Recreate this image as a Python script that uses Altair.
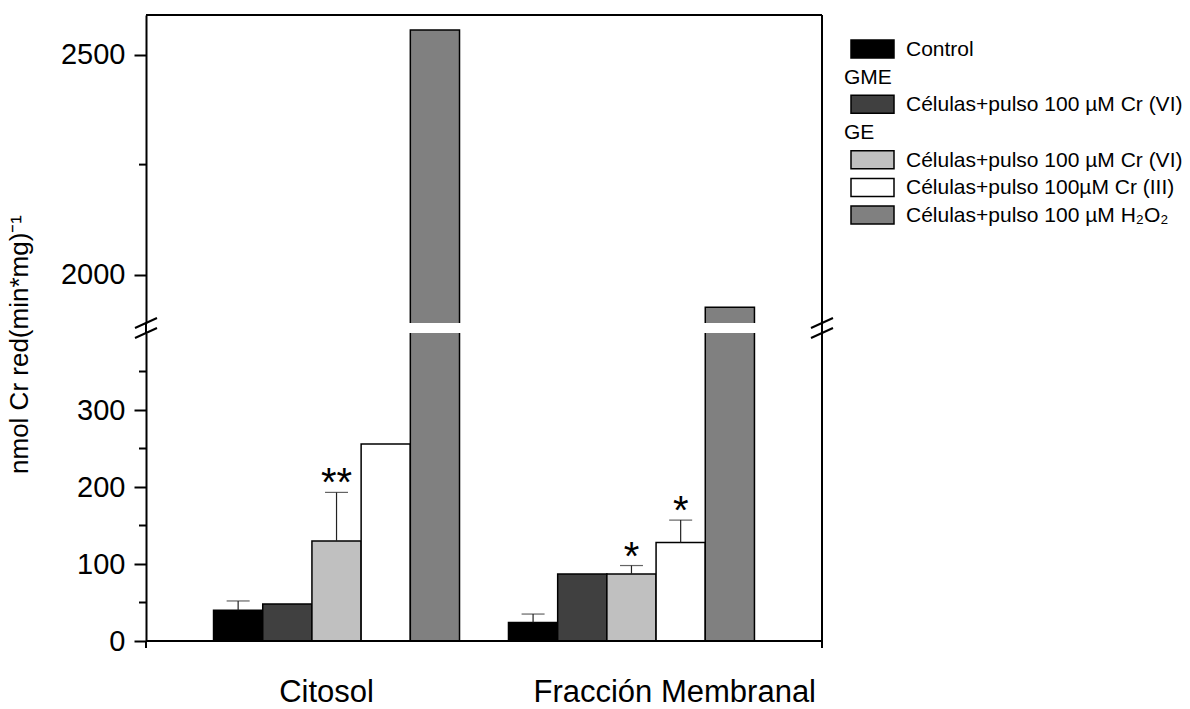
import altair as alt
import pandas as pd

# ---------------- data ----------------
groups = ["Citosol", "Fracción Membranal"]
series = ["Control", "GME Cr(VI)", "GE Cr(VI)", "GE Cr(III)", "GE H2O2"]
series_fill = ["#000000", "#404040", "#c0c0c0", "#ffffff", "#808080"]

citosol_mean = [40, 48, 130, 256, 2556]
citosol_sd = [12, None, 63, None, None]
citosol_sig = ["", "", "**", "", ""]

membrana_mean = [24, 87, 87, 128, 1926]
membrana_sd = [11, None, 11, 29, None]
membrana_sig = ["", "", "*", "*", ""]

lower_domain = [0, 400]
lower_ticks = [0, 100, 200, 300]
lower_minor = [50, 150, 250, 350]
upper_domain = [1890, 2590]
upper_ticks = [2000, 2500]
upper_minor = [2250]

legend_text = [
    "Control",
    "GME",
    "Células+pulso 100 µM Cr (VI)",
    "GE",
    "Células+pulso 100 µM Cr (VI)",
    "Células+pulso 100µM Cr (III)",
    "Células+pulso 100 µM H₂O₂",
]
legend_fill = ["#000000", None, "#404040", None, "#c0c0c0", "#ffffff", "#808080"]
legend_kind = ["item", "header", "item", "header", "item", "item", "item"]

y_title = "nmol Cr red(min*mg)⁻¹"

# ---------------- tables ----------------
rows = []
for g, means, sds, sigs in [
    (groups[0], citosol_mean, citosol_sd, citosol_sig),
    (groups[1], membrana_mean, membrana_sd, membrana_sig),
]:
    for s, m, sd, sig in zip(series, means, sds, sigs):
        rows.append({
            "grupo": g, "serie": s, "valor": m,
            "tope": (m + sd) if sd is not None else None,
            "sig": sig,
        })
df = pd.DataFrame(rows)
df_cat = pd.DataFrame({"grupo": groups})
one = pd.DataFrame({"k": [0]})

FONT = "Liberation Sans"
W, H = 676, 308

X = alt.X("grupo:N", scale=alt.Scale(domain=groups, paddingInner=0.166, paddingOuter=0.229), axis=None)
XO = alt.XOffset("serie:N", scale=alt.Scale(domain=series))
FILL = alt.Fill("serie:N", scale=alt.Scale(domain=series, range=series_fill), legend=None)


def y_axis(ticks, title):
    kw = dict(
        values=ticks, format="d", grid=False, labelFontSize=29, labelFont=FONT, labelColor="black",
        labelPadding=9, labelFlush=False, tickSize=12, tickWidth=2, tickColor="black",
        domainColor="black", domainWidth=2,
    )
    if title:
        kw.update(title=title, titleFont=FONT, titleFontSize=26, titleFontWeight="normal",
                  titleColor="black", titlePadding=44, titleY=11)
    else:
        kw.update(title=None)
    return alt.Axis(**kw)


def frame_rule(**mark_kw):
    return alt.Chart(one).mark_rule(color="black", strokeWidth=2, **mark_kw)


def panel(domain, ticks, minor, is_lower):
    ax = y_axis(ticks, y_title if is_lower else None)
    ysc = alt.Scale(domain=domain, nice=False, zero=False)

    def Y(field):
        return alt.Y(field, scale=ysc, axis=ax)

    bars = alt.Chart(df).mark_bar(stroke="black", strokeWidth=1.5, clip=True).encode(
        x=X, xOffset=XO, y=Y("valor:Q"), y2=alt.datum(0), fill=FILL
    )
    minor_ticks = alt.Chart(pd.DataFrame({"v": minor})).mark_rule(
        color="black", strokeWidth=2
    ).encode(y=Y("v:Q"), x=alt.value(-7), x2=alt.value(0))

    # right border of the frame
    right = frame_rule().encode(x=alt.value(W), y=alt.datum(domain[0]), y2=alt.datum(domain[1]))

    # slanted break marks where the axis is cut
    edge = domain[1] if is_lower else domain[0]
    slashes = [
        frame_rule(yOffset=5, y2Offset=-5).encode(
            x=alt.value(xv - 11), x2=alt.value(xv + 11), y=alt.datum(edge), y2=alt.datum(edge))
        for xv in (0, W)
    ]
    layers = [bars, minor_ticks, right] + slashes

    if is_lower:
        for xv in (0, W):
            # vertical borders stay continuous through the break
            layers.append(frame_rule(y2Offset=-10).encode(
                x=alt.value(xv), y=alt.datum(domain[1]), y2=alt.datum(domain[1])))
            # short ticks below the bottom corners
            layers.append(frame_rule(y2Offset=7).encode(
                x=alt.value(xv), y=alt.datum(0), y2=alt.datum(0)))
        bottom = frame_rule().encode(x=alt.value(0), x2=alt.value(W), y=alt.datum(0))
        err = alt.Chart(df).transform_filter("isValid(datum.tope)").mark_rule(
            color="#222222", strokeWidth=1.2).encode(x=X, xOffset=XO, y=Y("valor:Q"), y2=alt.Y2("tope:Q"))
        cap = alt.Chart(df).transform_filter("isValid(datum.tope)").mark_tick(
            color="#222222", thickness=1.2, size=23, orient="horizontal").encode(x=X, xOffset=XO, y=Y("tope:Q"))
        sig = alt.Chart(df).transform_filter("datum.sig != ''").mark_text(
            font=FONT, fontSize=40, baseline="alphabetic", dy=4, color="black").encode(
            x=X, xOffset=XO, y=Y("tope:Q"), text="sig:N")
        cat1 = alt.Chart(df_cat).transform_filter(alt.datum.grupo == groups[0]).mark_text(
            font=FONT, fontSize=31, baseline="alphabetic", align="center", dx=-10, dy=61, color="black"
        ).encode(x=X, y=alt.datum(0), text="grupo:N")
        cat2 = alt.Chart(df_cat).transform_filter(alt.datum.grupo == groups[1]).mark_text(
            font=FONT, fontSize=31, baseline="alphabetic", align="left", dx=-98, dy=61, color="black"
        ).encode(x=X, y=alt.datum(0), text="grupo:N")
        layers += [bottom, err, cap, sig, cat1, cat2]
    else:
        top = frame_rule().encode(x=alt.value(0), x2=alt.value(W), y=alt.datum(domain[1]))
        layers.append(top)

    return alt.layer(*layers).properties(width=W, height=H)


upper = panel(upper_domain, upper_ticks, upper_minor, False)
lower = panel(lower_domain, lower_ticks, lower_minor, True)

# ---------------- legend ----------------
leg_df = pd.DataFrame({"fila": list(range(len(legend_text))), "texto": legend_text,
                       "relleno": legend_fill, "tipo": legend_kind})
YL = alt.Y("fila:O", scale=alt.Scale(domain=list(range(len(legend_text))), paddingInner=0.35, paddingOuter=0.9), axis=None)
swatch = alt.Chart(leg_df).transform_filter("datum.tipo == 'item'").mark_rect(
    stroke="black", strokeWidth=1.5).encode(
    x=alt.value(9), x2=alt.value(52), y=YL, fill=alt.Fill("relleno:N", scale=None))
item_txt = alt.Chart(leg_df).transform_filter("datum.tipo == 'item'").mark_text(
    font=FONT, fontSize=21, align="left", baseline="alphabetic", dy=7, color="black").encode(
    x=alt.value(64), y=YL, text="texto:N")
head_txt = alt.Chart(leg_df).transform_filter("datum.tipo == 'header'").mark_text(
    font=FONT, fontSize=21, align="left", baseline="alphabetic", dy=7, color="black").encode(
    x=alt.value(2), y=YL, text="texto:N")
legend = alt.layer(swatch, item_txt, head_txt).properties(width=345, height=234)

left = alt.vconcat(upper, lower, spacing=10, bounds="flush")
chart = alt.hconcat(left, legend, spacing=8).properties(
    padding={"left": 6, "top": 14, "right": 0, "bottom": 0}
).configure(font=FONT).configure_view(stroke=None)

chart.save("out.html", embed_options={"renderer": "svg", "actions": False})
